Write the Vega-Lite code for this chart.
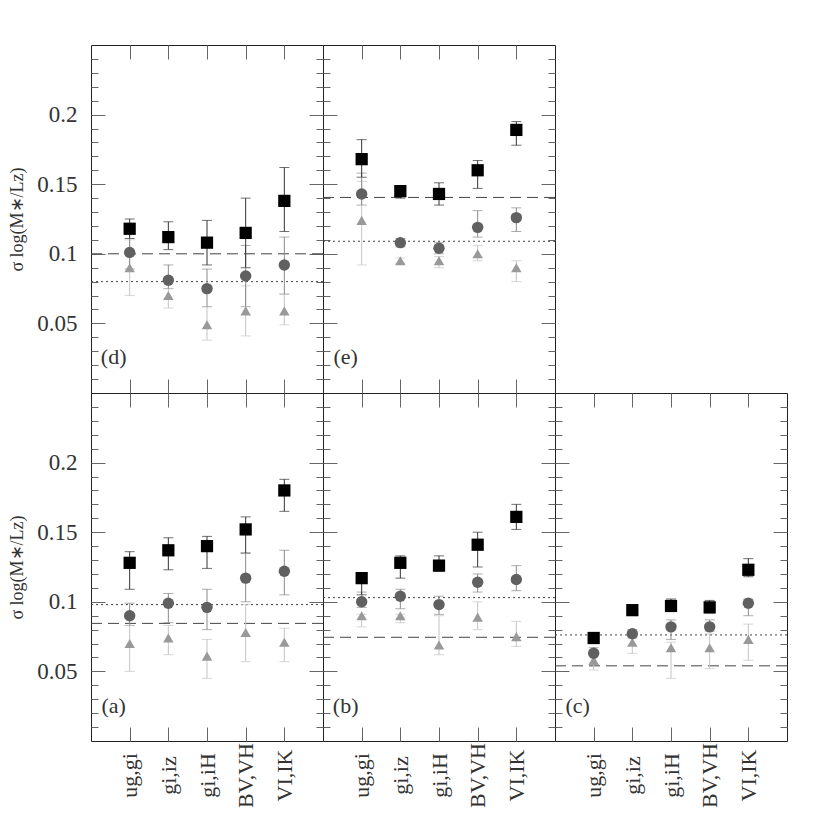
{
  "$schema": "https://vega.github.io/schema/vega-lite/v6.json",
  "padding": {"left": 8, "top": 44, "right": 5, "bottom": 5},
  "background": "white",
  "columns": 3,
  "spacing": 0,
  "bounds": "flush",
  "config": {
    "view": {"stroke": "#222", "strokeWidth": 1},
    "axis": {
      "domain": false,
      "grid": false,
      "tickColor": "#666",
      "tickWidth": 1,
      "labelFont": "Liberation Serif",
      "labelFontSize": 23,
      "labelColor": "#333",
      "titleFont": "Liberation Serif",
      "titleFontWeight": "normal",
      "titleColor": "#333"
    }
  },
  "datasets": {
    "pts": [
      {"p": "d", "k": "ug,gi", "s": "tr", "v": 0.090, "lo": 0.070, "hi": 0.110},
      {"p": "d", "k": "gi,iz", "s": "tr", "v": 0.070, "lo": 0.061, "hi": 0.075},
      {"p": "d", "k": "gi,iH", "s": "tr", "v": 0.049, "lo": 0.038, "hi": 0.062},
      {"p": "d", "k": "BV,VH", "s": "tr", "v": 0.059, "lo": 0.041, "hi": 0.077},
      {"p": "d", "k": "VI,IK", "s": "tr", "v": 0.059, "lo": 0.049, "hi": 0.071},
      {"p": "d", "k": "ug,gi", "s": "ci", "v": 0.101, "lo": 0.089, "hi": 0.114},
      {"p": "d", "k": "gi,iz", "s": "ci", "v": 0.081, "lo": 0.075, "hi": 0.092},
      {"p": "d", "k": "gi,iH", "s": "ci", "v": 0.075, "lo": 0.062, "hi": 0.089},
      {"p": "d", "k": "BV,VH", "s": "ci", "v": 0.084, "lo": 0.062, "hi": 0.106},
      {"p": "d", "k": "VI,IK", "s": "ci", "v": 0.092, "lo": 0.071, "hi": 0.112},
      {"p": "d", "k": "ug,gi", "s": "sq", "v": 0.118, "lo": 0.111, "hi": 0.125},
      {"p": "d", "k": "gi,iz", "s": "sq", "v": 0.112, "lo": 0.103, "hi": 0.123},
      {"p": "d", "k": "gi,iH", "s": "sq", "v": 0.108, "lo": 0.092, "hi": 0.124},
      {"p": "d", "k": "BV,VH", "s": "sq", "v": 0.115, "lo": 0.090, "hi": 0.140},
      {"p": "d", "k": "VI,IK", "s": "sq", "v": 0.138, "lo": 0.116, "hi": 0.162},

      {"p": "e", "k": "ug,gi", "s": "tr", "v": 0.124, "lo": 0.092, "hi": 0.152},
      {"p": "e", "k": "gi,iz", "s": "tr", "v": 0.095, "lo": 0.093, "hi": 0.097},
      {"p": "e", "k": "gi,iH", "s": "tr", "v": 0.095, "lo": 0.090, "hi": 0.098},
      {"p": "e", "k": "BV,VH", "s": "tr", "v": 0.100, "lo": 0.095, "hi": 0.106},
      {"p": "e", "k": "VI,IK", "s": "tr", "v": 0.090, "lo": 0.080, "hi": 0.095},
      {"p": "e", "k": "ug,gi", "s": "ci", "v": 0.143, "lo": 0.135, "hi": 0.158},
      {"p": "e", "k": "gi,iz", "s": "ci", "v": 0.108, "lo": 0.105, "hi": 0.111},
      {"p": "e", "k": "gi,iH", "s": "ci", "v": 0.104, "lo": 0.100, "hi": 0.108},
      {"p": "e", "k": "BV,VH", "s": "ci", "v": 0.119, "lo": 0.112, "hi": 0.131},
      {"p": "e", "k": "VI,IK", "s": "ci", "v": 0.126, "lo": 0.116, "hi": 0.133},
      {"p": "e", "k": "ug,gi", "s": "sq", "v": 0.168, "lo": 0.155, "hi": 0.182},
      {"p": "e", "k": "gi,iz", "s": "sq", "v": 0.145, "lo": 0.140, "hi": 0.149},
      {"p": "e", "k": "gi,iH", "s": "sq", "v": 0.143, "lo": 0.135, "hi": 0.151},
      {"p": "e", "k": "BV,VH", "s": "sq", "v": 0.160, "lo": 0.147, "hi": 0.167},
      {"p": "e", "k": "VI,IK", "s": "sq", "v": 0.189, "lo": 0.178, "hi": 0.195},

      {"p": "a", "k": "ug,gi", "s": "tr", "v": 0.070, "lo": 0.050, "hi": 0.083},
      {"p": "a", "k": "gi,iz", "s": "tr", "v": 0.074, "lo": 0.062, "hi": 0.083},
      {"p": "a", "k": "gi,iH", "s": "tr", "v": 0.061, "lo": 0.045, "hi": 0.073},
      {"p": "a", "k": "BV,VH", "s": "tr", "v": 0.078, "lo": 0.057, "hi": 0.098},
      {"p": "a", "k": "VI,IK", "s": "tr", "v": 0.071, "lo": 0.057, "hi": 0.081},
      {"p": "a", "k": "ug,gi", "s": "ci", "v": 0.090, "lo": 0.083, "hi": 0.099},
      {"p": "a", "k": "gi,iz", "s": "ci", "v": 0.099, "lo": 0.085, "hi": 0.106},
      {"p": "a", "k": "gi,iH", "s": "ci", "v": 0.096, "lo": 0.080, "hi": 0.109},
      {"p": "a", "k": "BV,VH", "s": "ci", "v": 0.117, "lo": 0.100, "hi": 0.135},
      {"p": "a", "k": "VI,IK", "s": "ci", "v": 0.122, "lo": 0.105, "hi": 0.137},
      {"p": "a", "k": "ug,gi", "s": "sq", "v": 0.128, "lo": 0.109, "hi": 0.136},
      {"p": "a", "k": "gi,iz", "s": "sq", "v": 0.137, "lo": 0.123, "hi": 0.146},
      {"p": "a", "k": "gi,iH", "s": "sq", "v": 0.140, "lo": 0.124, "hi": 0.147},
      {"p": "a", "k": "BV,VH", "s": "sq", "v": 0.152, "lo": 0.135, "hi": 0.161},
      {"p": "a", "k": "VI,IK", "s": "sq", "v": 0.180, "lo": 0.165, "hi": 0.188},

      {"p": "b", "k": "ug,gi", "s": "tr", "v": 0.090, "lo": 0.082, "hi": 0.091},
      {"p": "b", "k": "gi,iz", "s": "tr", "v": 0.090, "lo": 0.085, "hi": 0.091},
      {"p": "b", "k": "gi,iH", "s": "tr", "v": 0.069, "lo": 0.062, "hi": 0.090},
      {"p": "b", "k": "BV,VH", "s": "tr", "v": 0.089, "lo": 0.080, "hi": 0.100},
      {"p": "b", "k": "VI,IK", "s": "tr", "v": 0.075, "lo": 0.068, "hi": 0.086},
      {"p": "b", "k": "ug,gi", "s": "ci", "v": 0.100, "lo": 0.096, "hi": 0.107},
      {"p": "b", "k": "gi,iz", "s": "ci", "v": 0.104, "lo": 0.095, "hi": 0.109},
      {"p": "b", "k": "gi,iH", "s": "ci", "v": 0.098, "lo": 0.091, "hi": 0.104},
      {"p": "b", "k": "BV,VH", "s": "ci", "v": 0.114, "lo": 0.107, "hi": 0.120},
      {"p": "b", "k": "VI,IK", "s": "ci", "v": 0.116, "lo": 0.108, "hi": 0.126},
      {"p": "b", "k": "ug,gi", "s": "sq", "v": 0.117, "lo": 0.105, "hi": 0.121},
      {"p": "b", "k": "gi,iz", "s": "sq", "v": 0.128, "lo": 0.117, "hi": 0.133},
      {"p": "b", "k": "gi,iH", "s": "sq", "v": 0.126, "lo": 0.122, "hi": 0.133},
      {"p": "b", "k": "BV,VH", "s": "sq", "v": 0.141, "lo": 0.125, "hi": 0.150},
      {"p": "b", "k": "VI,IK", "s": "sq", "v": 0.161, "lo": 0.152, "hi": 0.170},

      {"p": "c", "k": "ug,gi", "s": "tr", "v": 0.058, "lo": 0.051, "hi": 0.061},
      {"p": "c", "k": "gi,iz", "s": "tr", "v": 0.071, "lo": 0.063, "hi": 0.075},
      {"p": "c", "k": "gi,iH", "s": "tr", "v": 0.067, "lo": 0.045, "hi": 0.071},
      {"p": "c", "k": "BV,VH", "s": "tr", "v": 0.067, "lo": 0.052, "hi": 0.077},
      {"p": "c", "k": "VI,IK", "s": "tr", "v": 0.073, "lo": 0.058, "hi": 0.084},
      {"p": "c", "k": "ug,gi", "s": "ci", "v": 0.063, "lo": 0.055, "hi": 0.067},
      {"p": "c", "k": "gi,iz", "s": "ci", "v": 0.077, "lo": 0.074, "hi": 0.080},
      {"p": "c", "k": "gi,iH", "s": "ci", "v": 0.082, "lo": 0.073, "hi": 0.087},
      {"p": "c", "k": "BV,VH", "s": "ci", "v": 0.082, "lo": 0.079, "hi": 0.087},
      {"p": "c", "k": "VI,IK", "s": "ci", "v": 0.099, "lo": 0.090, "hi": 0.102},
      {"p": "c", "k": "ug,gi", "s": "sq", "v": 0.074, "lo": 0.070, "hi": 0.077},
      {"p": "c", "k": "gi,iz", "s": "sq", "v": 0.094, "lo": 0.091, "hi": 0.097},
      {"p": "c", "k": "gi,iH", "s": "sq", "v": 0.097, "lo": 0.094, "hi": 0.102},
      {"p": "c", "k": "BV,VH", "s": "sq", "v": 0.096, "lo": 0.092, "hi": 0.101},
      {"p": "c", "k": "VI,IK", "s": "sq", "v": 0.123, "lo": 0.118, "hi": 0.131}
    ],
    "lines": [
      {"p": "d", "t": "dashed", "v": 0.1},
      {"p": "d", "t": "dotted", "v": 0.08},
      {"p": "e", "t": "dashed", "v": 0.1405},
      {"p": "e", "t": "dotted", "v": 0.109},
      {"p": "a", "t": "dashed", "v": 0.0845},
      {"p": "a", "t": "dotted", "v": 0.098},
      {"p": "b", "t": "dashed", "v": 0.0745},
      {"p": "b", "t": "dotted", "v": 0.103},
      {"p": "c", "t": "dashed", "v": 0.054},
      {"p": "c", "t": "dotted", "v": 0.0762}
    ],
    "labels": [
      {"p": "d", "lab": "(d)", "k": "ug,gi", "v": 0.026},
      {"p": "e", "lab": "(e)", "k": "ug,gi", "v": 0.026},
      {"p": "a", "lab": "(a)", "k": "ug,gi", "v": 0.025},
      {"p": "b", "lab": "(b)", "k": "ug,gi", "v": 0.025},
      {"p": "c", "lab": "(c)", "k": "ug,gi", "v": 0.025}
    ]
  },
  "concat": [
    {
      "width": 232, "height": 348,
      "resolve": {"axis": {"x": "independent", "y": "independent"}},
      "layer": [
        {
          "data": {"name": "lines"},
          "transform": [{"filter": "datum.p == 'd'"}],
          "mark": {"type": "rule", "color": "#444", "strokeWidth": 1},
          "encoding": {
            "y": {"field": "v", "type": "quantitative", "scale": {"domain": [0, 0.25], "nice": false, "zero": false},
              "axis": {"orient": "left", "values": [0.05, 0.1, 0.15, 0.2], "tickSize": -14, "format": "~g", "labelPadding": 28, "title": "σ log(M∗/Lz)", "titleFontSize": 18, "titlePadding": 10}},
            "strokeDash": {"field": "t", "type": "nominal", "scale": {"domain": ["dashed", "dotted"], "range": [[11, 6], [2, 3]]}, "legend": null}
          }
        },
        {
          "data": {"name": "pts"},
          "transform": [{"filter": "datum.p == 'd'"}],
          "mark": {"type": "errorbar", "ticks": {"size": 10}, "thickness": 1},
          "encoding": {
            "x": {"field": "k", "type": "nominal", "scale": {"type": "point", "padding": 1, "domain": ["ug,gi", "gi,iz", "gi,iH", "BV,VH", "VI,IK"]},
              "axis": {"orient": "bottom", "tickSize": -14, "labels": false, "title": null}},
            "y": {"field": "lo", "type": "quantitative", "scale": {"domain": [0, 0.25], "nice": false, "zero": false},
              "axis": {"orient": "left", "values": [0.01, 0.02, 0.03, 0.04, 0.06, 0.07, 0.08, 0.09, 0.11, 0.12, 0.13, 0.14, 0.16, 0.17, 0.18, 0.19, 0.21, 0.22, 0.23, 0.24], "tickSize": -7, "labels": false, "title": null}},
            "y2": {"field": "hi"},
            "color": {"field": "s", "type": "nominal", "scale": {"domain": ["tr", "ci", "sq"], "range": ["#c4c4c4", "#8a8a8a", "#333333"]}, "legend": null}
          }
        },
        {
          "data": {"name": "pts"},
          "transform": [{"filter": "datum.p == 'd'"}],
          "mark": {"type": "point", "filled": true, "opacity": 1, "strokeWidth": 0},
          "encoding": {
            "x": {"field": "k", "type": "nominal", "scale": {"type": "point", "padding": 1, "domain": ["ug,gi", "gi,iz", "gi,iH", "BV,VH", "VI,IK"]},
              "axis": {"orient": "top", "tickSize": -14, "labels": false, "title": null}},
            "y": {"field": "v", "type": "quantitative", "scale": {"domain": [0, 0.25], "nice": false, "zero": false},
              "axis": {"orient": "right", "values": [0.05, 0.1, 0.15, 0.2], "tickSize": -14, "labels": false, "title": null}},
            "shape": {"field": "s", "type": "nominal", "scale": {"domain": ["tr", "ci", "sq"], "range": ["triangle-up", "circle", "square"]}, "legend": null},
            "fill": {"field": "s", "type": "nominal", "scale": {"domain": ["tr", "ci", "sq"], "range": ["#999999", "#606060", "#000000"]}, "legend": null},
            "size": {"field": "s", "type": "nominal", "scale": {"domain": ["tr", "ci", "sq"], "range": [110, 150, 95]}, "legend": null}
          }
        },
        {
          "data": {"name": "labels"},
          "transform": [{"filter": "datum.p == 'd'"}],
          "mark": {"type": "text", "dx": -16, "fontSize": 22, "font": "Liberation Serif", "color": "#333"},
          "encoding": {
            "x": {"field": "k", "type": "nominal", "scale": {"type": "point", "padding": 1, "domain": ["ug,gi", "gi,iz", "gi,iH", "BV,VH", "VI,IK"]}, "axis": null},
            "y": {"field": "v", "type": "quantitative", "scale": {"domain": [0, 0.25], "nice": false, "zero": false},
              "axis": {"orient": "right", "values": [0.01, 0.02, 0.03, 0.04, 0.06, 0.07, 0.08, 0.09, 0.11, 0.12, 0.13, 0.14, 0.16, 0.17, 0.18, 0.19, 0.21, 0.22, 0.23, 0.24], "tickSize": -7, "labels": false, "title": null}},
            "text": {"field": "lab"}
          }
        }
      ]
    },
    {
      "width": 232, "height": 348,
      "resolve": {"axis": {"x": "independent", "y": "independent"}},
      "layer": [
        {
          "data": {"name": "lines"},
          "transform": [{"filter": "datum.p == 'e'"}],
          "mark": {"type": "rule", "color": "#444", "strokeWidth": 1},
          "encoding": {
            "y": {"field": "v", "type": "quantitative", "scale": {"domain": [0, 0.25], "nice": false, "zero": false},
              "axis": {"orient": "left", "values": [0.05, 0.1, 0.15, 0.2], "tickSize": -14, "labels": false, "title": null}},
            "strokeDash": {"field": "t", "type": "nominal", "scale": {"domain": ["dashed", "dotted"], "range": [[11, 6], [2, 3]]}, "legend": null}
          }
        },
        {
          "data": {"name": "pts"},
          "transform": [{"filter": "datum.p == 'e'"}],
          "mark": {"type": "errorbar", "ticks": {"size": 10}, "thickness": 1},
          "encoding": {
            "x": {"field": "k", "type": "nominal", "scale": {"type": "point", "padding": 1, "domain": ["ug,gi", "gi,iz", "gi,iH", "BV,VH", "VI,IK"]},
              "axis": {"orient": "bottom", "tickSize": -14, "labels": false, "title": null}},
            "y": {"field": "lo", "type": "quantitative", "scale": {"domain": [0, 0.25], "nice": false, "zero": false},
              "axis": {"orient": "left", "values": [0.01, 0.02, 0.03, 0.04, 0.06, 0.07, 0.08, 0.09, 0.11, 0.12, 0.13, 0.14, 0.16, 0.17, 0.18, 0.19, 0.21, 0.22, 0.23, 0.24], "tickSize": -7, "labels": false, "title": null}},
            "y2": {"field": "hi"},
            "color": {"field": "s", "type": "nominal", "scale": {"domain": ["tr", "ci", "sq"], "range": ["#c4c4c4", "#8a8a8a", "#333333"]}, "legend": null}
          }
        },
        {
          "data": {"name": "pts"},
          "transform": [{"filter": "datum.p == 'e'"}],
          "mark": {"type": "point", "filled": true, "opacity": 1, "strokeWidth": 0},
          "encoding": {
            "x": {"field": "k", "type": "nominal", "scale": {"type": "point", "padding": 1, "domain": ["ug,gi", "gi,iz", "gi,iH", "BV,VH", "VI,IK"]},
              "axis": {"orient": "top", "tickSize": -14, "labels": false, "title": null}},
            "y": {"field": "v", "type": "quantitative", "scale": {"domain": [0, 0.25], "nice": false, "zero": false},
              "axis": {"orient": "right", "values": [0.05, 0.1, 0.15, 0.2], "tickSize": -14, "labels": false, "title": null}},
            "shape": {"field": "s", "type": "nominal", "scale": {"domain": ["tr", "ci", "sq"], "range": ["triangle-up", "circle", "square"]}, "legend": null},
            "fill": {"field": "s", "type": "nominal", "scale": {"domain": ["tr", "ci", "sq"], "range": ["#999999", "#606060", "#000000"]}, "legend": null},
            "size": {"field": "s", "type": "nominal", "scale": {"domain": ["tr", "ci", "sq"], "range": [110, 150, 95]}, "legend": null}
          }
        },
        {
          "data": {"name": "labels"},
          "transform": [{"filter": "datum.p == 'e'"}],
          "mark": {"type": "text", "dx": -16, "fontSize": 22, "font": "Liberation Serif", "color": "#333"},
          "encoding": {
            "x": {"field": "k", "type": "nominal", "scale": {"type": "point", "padding": 1, "domain": ["ug,gi", "gi,iz", "gi,iH", "BV,VH", "VI,IK"]}, "axis": null},
            "y": {"field": "v", "type": "quantitative", "scale": {"domain": [0, 0.25], "nice": false, "zero": false},
              "axis": {"orient": "right", "values": [0.01, 0.02, 0.03, 0.04, 0.06, 0.07, 0.08, 0.09, 0.11, 0.12, 0.13, 0.14, 0.16, 0.17, 0.18, 0.19, 0.21, 0.22, 0.23, 0.24], "tickSize": -7, "labels": false, "title": null}},
            "text": {"field": "lab"}
          }
        }
      ]
    },
    {
      "width": 232, "height": 348,
      "view": {"stroke": null},
      "data": {"values": []},
      "mark": "point",
      "encoding": {}
    },
    {
      "width": 232, "height": 348,
      "resolve": {"axis": {"x": "independent", "y": "independent"}},
      "layer": [
        {
          "data": {"name": "lines"},
          "transform": [{"filter": "datum.p == 'a'"}],
          "mark": {"type": "rule", "color": "#444", "strokeWidth": 1},
          "encoding": {
            "y": {"field": "v", "type": "quantitative", "scale": {"domain": [0, 0.25], "nice": false, "zero": false},
              "axis": {"orient": "left", "values": [0.05, 0.1, 0.15, 0.2], "tickSize": -14, "format": "~g", "labelPadding": 28, "title": "σ log(M∗/Lz)", "titleFontSize": 18, "titlePadding": 10}},
            "strokeDash": {"field": "t", "type": "nominal", "scale": {"domain": ["dashed", "dotted"], "range": [[11, 6], [2, 3]]}, "legend": null}
          }
        },
        {
          "data": {"name": "pts"},
          "transform": [{"filter": "datum.p == 'a'"}],
          "mark": {"type": "errorbar", "ticks": {"size": 10}, "thickness": 1},
          "encoding": {
            "x": {"field": "k", "type": "nominal", "scale": {"type": "point", "padding": 1, "domain": ["ug,gi", "gi,iz", "gi,iH", "BV,VH", "VI,IK"]},
              "axis": {"orient": "bottom", "tickSize": -14, "labels": true, "labelAngle": -90, "labelAlign": "center", "labelBaseline": "middle", "labelPadding": 48, "labelFontSize": 22, "title": null}},
            "y": {"field": "lo", "type": "quantitative", "scale": {"domain": [0, 0.25], "nice": false, "zero": false},
              "axis": {"orient": "left", "values": [0.01, 0.02, 0.03, 0.04, 0.06, 0.07, 0.08, 0.09, 0.11, 0.12, 0.13, 0.14, 0.16, 0.17, 0.18, 0.19, 0.21, 0.22, 0.23, 0.24], "tickSize": -7, "labels": false, "title": null}},
            "y2": {"field": "hi"},
            "color": {"field": "s", "type": "nominal", "scale": {"domain": ["tr", "ci", "sq"], "range": ["#c4c4c4", "#8a8a8a", "#333333"]}, "legend": null}
          }
        },
        {
          "data": {"name": "pts"},
          "transform": [{"filter": "datum.p == 'a'"}],
          "mark": {"type": "point", "filled": true, "opacity": 1, "strokeWidth": 0},
          "encoding": {
            "x": {"field": "k", "type": "nominal", "scale": {"type": "point", "padding": 1, "domain": ["ug,gi", "gi,iz", "gi,iH", "BV,VH", "VI,IK"]},
              "axis": {"orient": "top", "tickSize": -14, "labels": false, "title": null}},
            "y": {"field": "v", "type": "quantitative", "scale": {"domain": [0, 0.25], "nice": false, "zero": false},
              "axis": {"orient": "right", "values": [0.05, 0.1, 0.15, 0.2], "tickSize": -14, "labels": false, "title": null}},
            "shape": {"field": "s", "type": "nominal", "scale": {"domain": ["tr", "ci", "sq"], "range": ["triangle-up", "circle", "square"]}, "legend": null},
            "fill": {"field": "s", "type": "nominal", "scale": {"domain": ["tr", "ci", "sq"], "range": ["#999999", "#606060", "#000000"]}, "legend": null},
            "size": {"field": "s", "type": "nominal", "scale": {"domain": ["tr", "ci", "sq"], "range": [110, 150, 95]}, "legend": null}
          }
        },
        {
          "data": {"name": "labels"},
          "transform": [{"filter": "datum.p == 'a'"}],
          "mark": {"type": "text", "dx": -16, "fontSize": 22, "font": "Liberation Serif", "color": "#333"},
          "encoding": {
            "x": {"field": "k", "type": "nominal", "scale": {"type": "point", "padding": 1, "domain": ["ug,gi", "gi,iz", "gi,iH", "BV,VH", "VI,IK"]}, "axis": null},
            "y": {"field": "v", "type": "quantitative", "scale": {"domain": [0, 0.25], "nice": false, "zero": false},
              "axis": {"orient": "right", "values": [0.01, 0.02, 0.03, 0.04, 0.06, 0.07, 0.08, 0.09, 0.11, 0.12, 0.13, 0.14, 0.16, 0.17, 0.18, 0.19, 0.21, 0.22, 0.23, 0.24], "tickSize": -7, "labels": false, "title": null}},
            "text": {"field": "lab"}
          }
        }
      ]
    },
    {
      "width": 232, "height": 348,
      "resolve": {"axis": {"x": "independent", "y": "independent"}},
      "layer": [
        {
          "data": {"name": "lines"},
          "transform": [{"filter": "datum.p == 'b'"}],
          "mark": {"type": "rule", "color": "#444", "strokeWidth": 1},
          "encoding": {
            "y": {"field": "v", "type": "quantitative", "scale": {"domain": [0, 0.25], "nice": false, "zero": false},
              "axis": {"orient": "left", "values": [0.05, 0.1, 0.15, 0.2], "tickSize": -14, "labels": false, "title": null}},
            "strokeDash": {"field": "t", "type": "nominal", "scale": {"domain": ["dashed", "dotted"], "range": [[11, 6], [2, 3]]}, "legend": null}
          }
        },
        {
          "data": {"name": "pts"},
          "transform": [{"filter": "datum.p == 'b'"}],
          "mark": {"type": "errorbar", "ticks": {"size": 10}, "thickness": 1},
          "encoding": {
            "x": {"field": "k", "type": "nominal", "scale": {"type": "point", "padding": 1, "domain": ["ug,gi", "gi,iz", "gi,iH", "BV,VH", "VI,IK"]},
              "axis": {"orient": "bottom", "tickSize": -14, "labels": true, "labelAngle": -90, "labelAlign": "center", "labelBaseline": "middle", "labelPadding": 48, "labelFontSize": 22, "title": null}},
            "y": {"field": "lo", "type": "quantitative", "scale": {"domain": [0, 0.25], "nice": false, "zero": false},
              "axis": {"orient": "left", "values": [0.01, 0.02, 0.03, 0.04, 0.06, 0.07, 0.08, 0.09, 0.11, 0.12, 0.13, 0.14, 0.16, 0.17, 0.18, 0.19, 0.21, 0.22, 0.23, 0.24], "tickSize": -7, "labels": false, "title": null}},
            "y2": {"field": "hi"},
            "color": {"field": "s", "type": "nominal", "scale": {"domain": ["tr", "ci", "sq"], "range": ["#c4c4c4", "#8a8a8a", "#333333"]}, "legend": null}
          }
        },
        {
          "data": {"name": "pts"},
          "transform": [{"filter": "datum.p == 'b'"}],
          "mark": {"type": "point", "filled": true, "opacity": 1, "strokeWidth": 0},
          "encoding": {
            "x": {"field": "k", "type": "nominal", "scale": {"type": "point", "padding": 1, "domain": ["ug,gi", "gi,iz", "gi,iH", "BV,VH", "VI,IK"]},
              "axis": {"orient": "top", "tickSize": -14, "labels": false, "title": null}},
            "y": {"field": "v", "type": "quantitative", "scale": {"domain": [0, 0.25], "nice": false, "zero": false},
              "axis": {"orient": "right", "values": [0.05, 0.1, 0.15, 0.2], "tickSize": -14, "labels": false, "title": null}},
            "shape": {"field": "s", "type": "nominal", "scale": {"domain": ["tr", "ci", "sq"], "range": ["triangle-up", "circle", "square"]}, "legend": null},
            "fill": {"field": "s", "type": "nominal", "scale": {"domain": ["tr", "ci", "sq"], "range": ["#999999", "#606060", "#000000"]}, "legend": null},
            "size": {"field": "s", "type": "nominal", "scale": {"domain": ["tr", "ci", "sq"], "range": [110, 150, 95]}, "legend": null}
          }
        },
        {
          "data": {"name": "labels"},
          "transform": [{"filter": "datum.p == 'b'"}],
          "mark": {"type": "text", "dx": -16, "fontSize": 22, "font": "Liberation Serif", "color": "#333"},
          "encoding": {
            "x": {"field": "k", "type": "nominal", "scale": {"type": "point", "padding": 1, "domain": ["ug,gi", "gi,iz", "gi,iH", "BV,VH", "VI,IK"]}, "axis": null},
            "y": {"field": "v", "type": "quantitative", "scale": {"domain": [0, 0.25], "nice": false, "zero": false},
              "axis": {"orient": "right", "values": [0.01, 0.02, 0.03, 0.04, 0.06, 0.07, 0.08, 0.09, 0.11, 0.12, 0.13, 0.14, 0.16, 0.17, 0.18, 0.19, 0.21, 0.22, 0.23, 0.24], "tickSize": -7, "labels": false, "title": null}},
            "text": {"field": "lab"}
          }
        }
      ]
    },
    {
      "width": 232, "height": 348,
      "resolve": {"axis": {"x": "independent", "y": "independent"}},
      "layer": [
        {
          "data": {"name": "lines"},
          "transform": [{"filter": "datum.p == 'c'"}],
          "mark": {"type": "rule", "color": "#444", "strokeWidth": 1},
          "encoding": {
            "y": {"field": "v", "type": "quantitative", "scale": {"domain": [0, 0.25], "nice": false, "zero": false},
              "axis": {"orient": "left", "values": [0.05, 0.1, 0.15, 0.2], "tickSize": -14, "labels": false, "title": null}},
            "strokeDash": {"field": "t", "type": "nominal", "scale": {"domain": ["dashed", "dotted"], "range": [[11, 6], [2, 3]]}, "legend": null}
          }
        },
        {
          "data": {"name": "pts"},
          "transform": [{"filter": "datum.p == 'c'"}],
          "mark": {"type": "errorbar", "ticks": {"size": 10}, "thickness": 1},
          "encoding": {
            "x": {"field": "k", "type": "nominal", "scale": {"type": "point", "padding": 1, "domain": ["ug,gi", "gi,iz", "gi,iH", "BV,VH", "VI,IK"]},
              "axis": {"orient": "bottom", "tickSize": -14, "labels": true, "labelAngle": -90, "labelAlign": "center", "labelBaseline": "middle", "labelPadding": 48, "labelFontSize": 22, "title": null}},
            "y": {"field": "lo", "type": "quantitative", "scale": {"domain": [0, 0.25], "nice": false, "zero": false},
              "axis": {"orient": "left", "values": [0.01, 0.02, 0.03, 0.04, 0.06, 0.07, 0.08, 0.09, 0.11, 0.12, 0.13, 0.14, 0.16, 0.17, 0.18, 0.19, 0.21, 0.22, 0.23, 0.24], "tickSize": -7, "labels": false, "title": null}},
            "y2": {"field": "hi"},
            "color": {"field": "s", "type": "nominal", "scale": {"domain": ["tr", "ci", "sq"], "range": ["#c4c4c4", "#8a8a8a", "#333333"]}, "legend": null}
          }
        },
        {
          "data": {"name": "pts"},
          "transform": [{"filter": "datum.p == 'c'"}],
          "mark": {"type": "point", "filled": true, "opacity": 1, "strokeWidth": 0},
          "encoding": {
            "x": {"field": "k", "type": "nominal", "scale": {"type": "point", "padding": 1, "domain": ["ug,gi", "gi,iz", "gi,iH", "BV,VH", "VI,IK"]},
              "axis": {"orient": "top", "tickSize": -14, "labels": false, "title": null}},
            "y": {"field": "v", "type": "quantitative", "scale": {"domain": [0, 0.25], "nice": false, "zero": false},
              "axis": {"orient": "right", "values": [0.05, 0.1, 0.15, 0.2], "tickSize": -14, "labels": false, "title": null}},
            "shape": {"field": "s", "type": "nominal", "scale": {"domain": ["tr", "ci", "sq"], "range": ["triangle-up", "circle", "square"]}, "legend": null},
            "fill": {"field": "s", "type": "nominal", "scale": {"domain": ["tr", "ci", "sq"], "range": ["#999999", "#606060", "#000000"]}, "legend": null},
            "size": {"field": "s", "type": "nominal", "scale": {"domain": ["tr", "ci", "sq"], "range": [110, 150, 95]}, "legend": null}
          }
        },
        {
          "data": {"name": "labels"},
          "transform": [{"filter": "datum.p == 'c'"}],
          "mark": {"type": "text", "dx": -16, "fontSize": 22, "font": "Liberation Serif", "color": "#333"},
          "encoding": {
            "x": {"field": "k", "type": "nominal", "scale": {"type": "point", "padding": 1, "domain": ["ug,gi", "gi,iz", "gi,iH", "BV,VH", "VI,IK"]}, "axis": null},
            "y": {"field": "v", "type": "quantitative", "scale": {"domain": [0, 0.25], "nice": false, "zero": false},
              "axis": {"orient": "right", "values": [0.01, 0.02, 0.03, 0.04, 0.06, 0.07, 0.08, 0.09, 0.11, 0.12, 0.13, 0.14, 0.16, 0.17, 0.18, 0.19, 0.21, 0.22, 0.23, 0.24], "tickSize": -7, "labels": false, "title": null}},
            "text": {"field": "lab"}
          }
        }
      ]
    }
  ]
}
